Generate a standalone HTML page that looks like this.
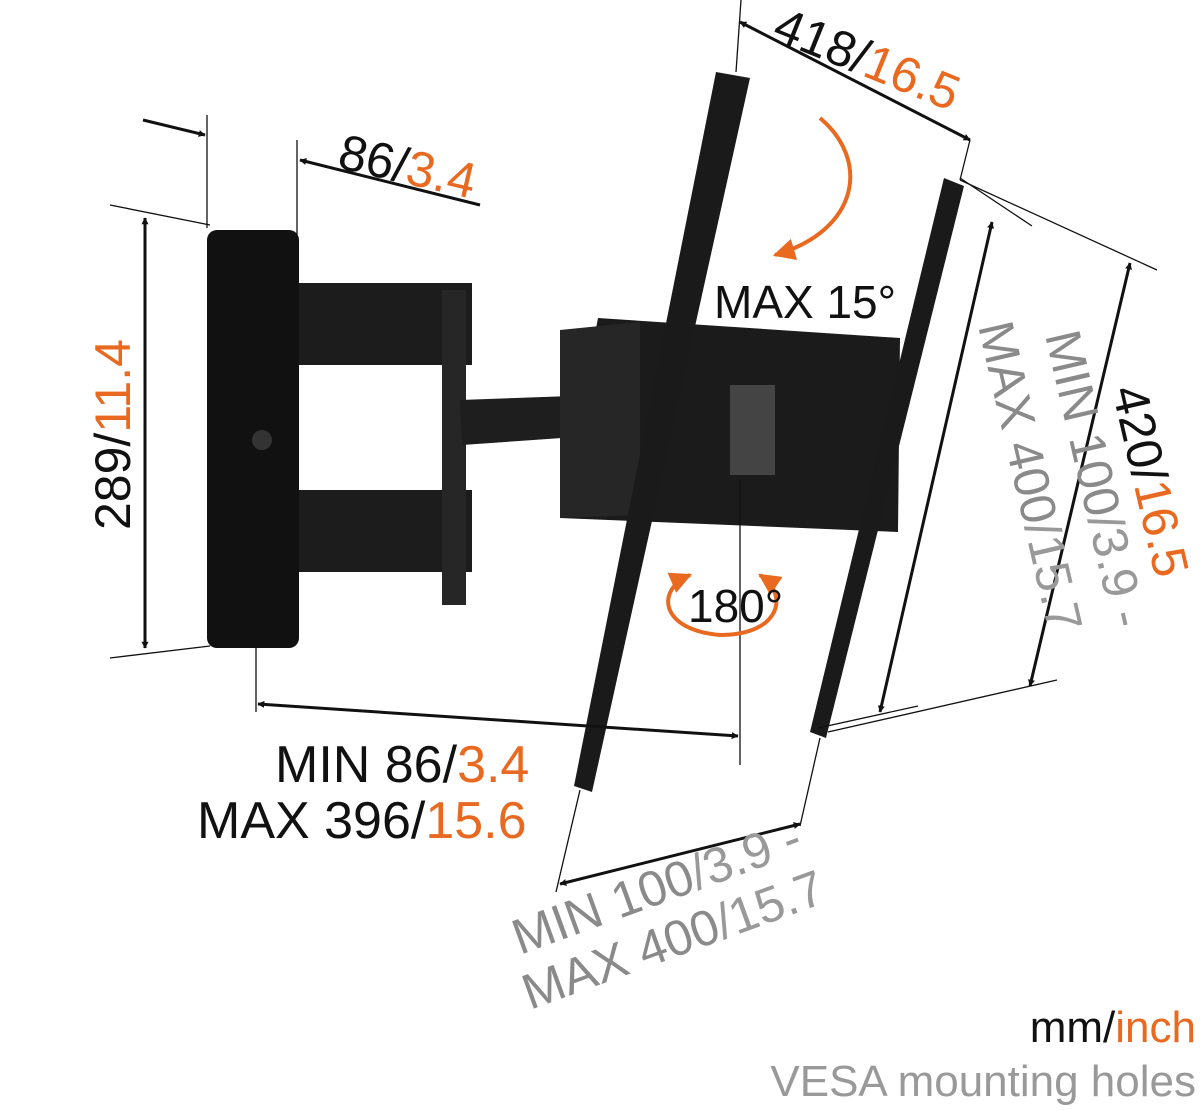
<!DOCTYPE html>
<html><head><meta charset="utf-8"><style>
html,body{margin:0;padding:0;background:#fff;}
svg{display:block;}
text{font-family:"Liberation Sans",sans-serif;}
</style></head><body>
<svg width="1200" height="1110" viewBox="0 0 1200 1110" xmlns="http://www.w3.org/2000/svg">
<defs>
<marker id="a" viewBox="0 0 10 10" refX="9" refY="5" markerWidth="7" markerHeight="7" orient="auto-start-reverse" markerUnits="userSpaceOnUse">
<path d="M0,0 L10,5 L0,10 z" fill="#111"/></marker>
<marker id="ao" viewBox="0 0 10 10" refX="9" refY="5" markerWidth="22" markerHeight="22" orient="auto-start-reverse" markerUnits="userSpaceOnUse">
<path d="M0,0 L10,5 L0,10 z" fill="#e8691f"/></marker>
</defs>
<style>.d{stroke:#111;stroke-width:3;fill:none}.e{stroke:#111;stroke-width:1.3;fill:none}</style>
<rect x="250" y="283" width="222" height="82" fill="#1c1c1c"/>
<rect x="250" y="490" width="222" height="82" fill="#1c1c1c"/>
<rect x="442" y="290" width="24" height="315" fill="#262626"/>
<rect x="240" y="285" width="40" height="100" rx="8" fill="#2a2a2a"/>
<rect x="240" y="485" width="40" height="105" rx="8" fill="#2a2a2a"/>
<polygon points="460,400 600,395 605,435 462,445" fill="#1e1e1e"/>
<rect x="207" y="230" width="92" height="418" rx="10" fill="#111"/>
<circle cx="262" cy="440" r="10" fill="#333"/>
<polygon points="598,318 900,338 898,532 560,518" fill="#1b1b1b"/>
<polygon points="560,330 640,322 640,515 560,518" fill="#262626"/>
<rect x="730" y="385" width="45" height="90" fill="#444"/>
<polygon points="716,72 750,78 592,792 574,786" fill="#1a1a1a"/>
<polygon points="944,178 964,186 826,738 810,732" fill="#1a1a1a"/>
<line class="d" x1="145" y1="218" x2="145" y2="648" marker-start="url(#a)" marker-end="url(#a)"/>
<line class="e" x1="110" y1="205" x2="210" y2="225"/>
<line class="e" x1="110" y1="658" x2="210" y2="646"/>
<line class="e" x1="207" y1="115" x2="207" y2="228"/>
<line class="e" x1="297" y1="140" x2="297" y2="245"/>
<line class="d" x1="480" y1="205" x2="300" y2="160" marker-end="url(#a)"/>
<line class="d" x1="143" y1="120" x2="205" y2="135" marker-end="url(#a)"/>
<line class="d" x1="740" y1="22" x2="970" y2="140" marker-start="url(#a)" marker-end="url(#a)"/>
<line class="e" x1="741" y1="0" x2="736" y2="72"/>
<line class="e" x1="970" y1="140" x2="960" y2="180"/>
<line class="d" x1="1130" y1="263" x2="1030" y2="686" marker-start="url(#a)" marker-end="url(#a)"/>
<line class="e" x1="960" y1="180" x2="1157" y2="270"/>
<line class="e" x1="828" y1="732" x2="1057" y2="680"/>
<line class="d" x1="992" y1="222" x2="880" y2="712" marker-start="url(#a)" marker-end="url(#a)"/>
<line class="e" x1="960" y1="178" x2="1032" y2="226"/>
<line class="e" x1="818" y1="728" x2="918" y2="706"/>
<line class="d" x1="258" y1="704" x2="738" y2="736" marker-start="url(#a)" marker-end="url(#a)"/>
<line class="e" x1="256" y1="645" x2="256" y2="712"/>
<line class="e" x1="740" y1="480" x2="740" y2="765"/>
<line class="d" x1="560" y1="884" x2="800" y2="824" marker-start="url(#a)" marker-end="url(#a)"/>
<line class="e" x1="556" y1="892" x2="580" y2="790"/>
<line class="e" x1="800" y1="826" x2="820" y2="738"/>
<path d="M820,118 C870,160 860,230 775,255" stroke="#e8691f" stroke-width="4" fill="none" marker-end="url(#ao)"/>
<path d="M690,575 C655,590 660,630 720,635 C780,635 790,595 760,575" stroke="#e8691f" stroke-width="4" fill="none" marker-start="url(#ao)" marker-end="url(#ao)"/>
<g font-size="50" fill="#111">
<text x="340" y="168" transform="rotate(13 340 150)">86/<tspan fill="#e8691f">3.4</tspan></text>
<text x="778" y="40" transform="rotate(22 778 20)">418/<tspan fill="#e8691f">16.5</tspan></text>
<text x="130" y="530" transform="rotate(-90 130 530)">289/<tspan fill="#e8691f">11.4</tspan></text>
<text x="714" y="318" font-size="46">MAX 15°</text>
<text x="688" y="622" font-size="46">180°</text>
<text x="275" y="782" font-size="52">MIN 86/<tspan fill="#e8691f">3.4</tspan></text>
<text x="197" y="838" font-size="52">MAX 396/<tspan fill="#e8691f">15.6</tspan></text>
<text x="1112" y="390" transform="rotate(77 1112 390)">420/<tspan fill="#e8691f">16.5</tspan></text>
<g fill="#999">
<text x="1045" y="335" transform="rotate(77 1045 335)"><tspan fill="#8a8a8a">MIN 100</tspan>/3.9 -</text>
<text x="978" y="326" transform="rotate(77 978 326)"><tspan fill="#8a8a8a">MAX 400</tspan>/15.7</text>
<text x="520" y="955" transform="rotate(-20 520 955)"><tspan fill="#8a8a8a">MIN 100</tspan>/3.9 -</text>
<text x="530" y="1010" transform="rotate(-20 530 1010)"><tspan fill="#8a8a8a">MAX 400</tspan>/15.7</text>
</g>
<text x="1196" y="1042" font-size="44" text-anchor="end">mm/<tspan fill="#e8691f">inch</tspan></text>
<text x="1196" y="1096" font-size="44" text-anchor="end" fill="#999">VESA mounting holes</text>
</g>
</svg>
</body></html>
